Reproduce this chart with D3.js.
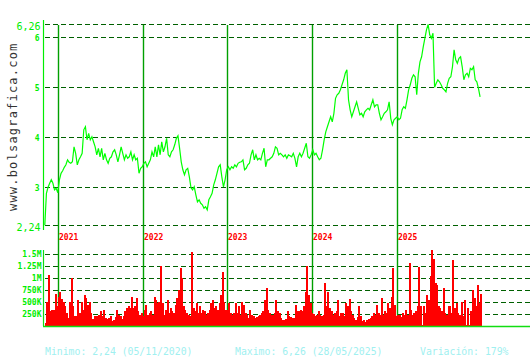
<!DOCTYPE html>
<html>
<head>
<meta charset="utf-8">
<script src="https://cdn.jsdelivr.net/npm/d3@7"></script>
<style>
  body { margin: 0; background: #fff; }
  svg { display: block; }
  text { font-family: "DejaVu Sans Mono", monospace; }
</style>
</head>
<body>
<div id="chart"></div>
<script>
let width = 530
  , height = 360
  , left = 43
  , gridColor = '#006000'
  , axisColor = '#11dd11';

// weekly closes, first week = 05/11/2020
let startDate = new Date(2020, 10, 5);
let prices = [
  2.24, 2.88, 3.00, 3.08, 3.15, 3.08, 2.95, 2.98, 2.89, 3.15,
  3.28, 3.33, 3.40, 3.45, 3.55, 3.50, 3.48, 3.51, 3.81, 3.68,
  3.45, 3.55, 3.61, 3.68, 4.15, 4.21, 3.95, 4.08, 3.95, 4.01,
  3.91, 3.81, 3.65, 3.78, 3.61, 3.78, 3.55, 3.68, 3.55, 3.48,
  3.58, 3.61, 3.71, 3.75, 3.65, 3.51, 3.65, 3.81, 3.68, 3.55,
  3.65, 3.58, 3.61, 3.71, 3.55, 3.65, 3.55, 3.58, 3.28, 3.38,
  3.41, 3.48, 3.51, 3.41, 3.48, 3.55, 3.71, 3.61, 3.81, 3.61,
  3.85, 3.65, 3.91, 3.71, 3.81, 3.98, 3.65, 3.61, 3.71, 3.75,
  3.85, 3.98, 4.03, 3.78, 3.51, 3.35, 3.25, 3.35, 3.38, 3.21,
  2.99, 2.95, 3.01, 2.85, 2.71, 2.75, 2.68, 2.65, 2.58, 2.61,
  2.55, 2.75, 2.81, 2.88, 3.05, 3.15, 3.28, 3.41, 3.45, 3.21,
  3.01, 3.15, 3.35, 3.41, 3.35, 3.41, 3.38, 3.45, 3.41, 3.48,
  3.50, 3.51, 3.55, 3.35, 3.38, 3.45, 3.48, 3.65, 3.75, 3.55,
  3.65, 3.55, 3.58, 3.55, 3.68, 3.78, 3.41, 3.55, 3.55, 3.58,
  3.61, 3.68, 3.81, 3.78, 3.65, 3.68, 3.65, 3.61, 3.65, 3.58,
  3.65, 3.63, 3.61, 3.68, 3.58, 3.41, 3.61, 3.68, 3.61, 3.68,
  3.78, 3.88, 3.61, 3.58, 3.65, 3.75, 3.65, 3.68, 3.61, 3.55,
  3.58, 3.75, 3.95, 4.11, 4.21, 4.31, 4.41, 4.31, 4.48, 4.78,
  4.85, 4.88, 4.95, 5.05, 5.15, 5.28, 5.35, 4.75, 4.55, 4.41,
  4.51, 4.61, 4.71, 4.58, 4.45, 4.48, 4.41, 4.51, 4.55, 4.58,
  4.55, 4.65, 4.75, 4.61, 4.65, 4.65, 4.48, 4.35, 4.41, 4.48,
  4.51, 4.55, 4.71, 4.38, 4.25, 4.35, 4.38, 4.41, 4.35, 4.38,
  4.55, 4.61, 4.58, 4.75, 4.95, 5.05, 5.18, 5.25, 5.21, 4.85,
  5.28, 5.51, 5.61, 5.81, 5.98, 6.15, 6.26, 6.05, 5.98, 6.08,
  5.00, 5.08, 5.15, 5.11, 5.05, 4.98, 4.95, 4.91, 5.08, 5.18,
  5.21, 5.41, 5.75, 5.55, 5.48, 5.58, 5.61, 5.41, 5.15, 5.25,
  5.28, 5.21, 5.38, 5.35, 5.41, 5.15, 5.11, 4.98, 4.81
];

// weekly volume, thousands of shares
let volumes = [
  49, 500, 1056, 292, 326, 326, 653, 410, 604, 708,
  556, 500, 396, 257, 153, 500, 1000, 396, 188, 188,
  535, 257, 500, 326, 639, 569, 431, 500, 257, 139,
  208, 208, 188, 222, 292, 188, 326, 153, 139, 153,
  188, 97, 118, 167, 326, 222, 188, 139, 188, 292,
  361, 396, 361, 590, 361, 396, 569, 292, 222, 257,
  188, 326, 431, 222, 257, 292, 222, 604, 535, 465,
  500, 1243, 465, 222, 326, 535, 257, 361, 292, 257,
  431, 569, 743, 1194, 1000, 396, 326, 257, 222, 188,
  1528, 361, 292, 465, 257, 396, 257, 326, 292, 222,
  257, 326, 465, 535, 361, 396, 326, 465, 639, 1111,
  500, 326, 326, 465, 257, 222, 257, 465, 257, 396,
  222, 500, 431, 257, 222, 153, 326, 222, 188, 153,
  167, 188, 222, 257, 292, 535, 778, 326, 257, 222,
  222, 257, 535, 292, 257, 153, 118, 118, 139, 292,
  188, 167, 153, 153, 431, 292, 306, 326, 306, 396,
  708, 1250, 639, 465, 257, 236, 188, 222, 292, 222,
  188, 222, 882, 396, 708, 361, 292, 222, 257, 292,
  535, 188, 257, 257, 188, 465, 396, 549, 292, 222,
  153, 118, 167, 396, 188, 97, 118, 83, 118, 139,
  153, 188, 257, 222, 431, 257, 222, 569, 222, 292,
  257, 465, 361, 604, 1208, 431, 188, 222, 222, 167,
  257, 222, 326, 222, 1299, 326, 222, 257, 292, 396,
  1229, 396, 14, 396, 257, 639, 535, 1021, 1576, 1389,
  882, 847, 396, 361, 292, 778, 257, 222, 396, 396,
  257, 1368, 361, 465, 257, 222, 500, 188, 535, 14,
  361, 14, 292, 743, 569, 396, 847, 465, 653
];

let years = [2021, 2022, 2023, 2024, 2025];
let priceTicks = [6, 5, 4, 3];
let priceExtremes = [6.26, 2.24];
let volTicks = [1500, 1250, 1000, 750, 500, 250];
let volLabels = ['1.5M', '1.25M', '1M', '750K', '500K', '250K'];
let footer = [
  { text: 'Minimo: 2,24 (05/11/2020)', x: 45 },
  { text: 'Maximo: 6,26 (28/05/2025)', x: 235 },
  { text: 'Variación: 179%', x: 420 }
];

let data = prices.map((p, i) => ({
  date: d3.timeDay.offset(startDate, i * 7),
  close: p,
  vol: volumes[i]
}));

var x = d3.scaleTime()
  .domain([startDate, new Date(2026, 0, 1)])
  .range([44.8, 481.7]);
var y = d3.scaleLinear().domain([2.24, 6.26]).range([225.3, 24.3]);
var yv = d3.scaleLinear().domain([0, 1500]).range([325.5, 253.5]);

let svg = d3.select('#chart').append('svg')
  .attr('width', width).attr('height', height);

// watermark
svg.append('text')
  .attr('transform', 'translate(17,211) rotate(-90)')
  .attr('font-size', 12)
  .attr('letter-spacing', 1.2)
  .attr('fill', '#333')
  .text('www.bolsagrafica.com');

// price grid
svg.selectAll('line.pgrid')
  .data(priceTicks.concat(priceExtremes)).enter()
  .append('line')
  .attr('class', 'pgrid')
  .attr('x1', left + 2).attr('x2', width)
  .attr('y1', d => Math.round(y(d)) + 0.5).attr('y2', d => Math.round(y(d)) + 0.5)
  .attr('stroke', gridColor).attr('stroke-dasharray', '5,3');

// volume grid
svg.selectAll('line.vgrid')
  .data(volTicks).enter()
  .append('line')
  .attr('class', 'vgrid')
  .attr('x1', left + 2).attr('x2', width)
  .attr('y1', d => Math.round(yv(d)) + 0.5).attr('y2', d => Math.round(yv(d)) + 0.5)
  .attr('stroke', gridColor).attr('stroke-dasharray', '5,3');

// year separators
let yearDates = years.map(yr => new Date(yr, 0, 1));
svg.selectAll('line.year')
  .data(yearDates).enter()
  .append('line')
  .attr('class', 'year')
  .attr('x1', d => Math.round(x(d)) + 0.5).attr('x2', d => Math.round(x(d)) + 0.5)
  .attr('y1', 25).attr('y2', 326)
  .attr('stroke', '#00a000').attr('stroke-width', 1.4);

svg.selectAll('text.year')
  .data(yearDates).enter()
  .append('text')
  .attr('class', 'year')
  .attr('x', d => Math.round(x(d)) + 1)
  .attr('y', 239.5)
  .attr('font-size', 8).attr('font-weight', 'bold')
  .attr('fill', '#ff0000')
  .text(d => d.getFullYear());

// volume bars
svg.append('g').selectAll('rect')
  .data(data).enter()
  .append('rect')
  .attr('x', d => x(d.date))
  .attr('width', 2)
  .attr('y', d => yv(d.vol))
  .attr('height', d => yv(0) - yv(d.vol))
  .attr('fill', '#ff0000')
  .attr('shape-rendering', 'crispEdges');

// price line
let line = d3.line().x(d => x(d.date)).y(d => y(d.close));
svg.append('path')
  .datum(data)
  .attr('d', line)
  .attr('fill', 'none')
  .attr('stroke', '#00ff00')
  .attr('stroke-width', 1.2);

// axes lines
svg.append('line')
  .attr('x1', left + 0.5).attr('x2', left + 0.5).attr('y1', 20).attr('y2', 230)
  .attr('stroke', '#00ee00').attr('stroke-width', 1.2);
svg.append('line')
  .attr('x1', left + 0.5).attr('x2', left + 0.5).attr('y1', 250).attr('y2', 326)
  .attr('stroke', axisColor).attr('stroke-width', 1.2);
svg.append('line')
  .attr('x1', left).attr('x2', width).attr('y1', 326.5).attr('y2', 326.5)
  .attr('stroke', axisColor).attr('stroke-width', 1.3);

// price labels
svg.selectAll('text.ptick')
  .data(priceTicks).enter()
  .append('text')
  .attr('class', 'ptick')
  .attr('x', 39.5).attr('y', d => y(d) + 4)
  .attr('text-anchor', 'end')
  .attr('font-size', 8).attr('font-weight', 'bold')
  .attr('fill', '#00ee00')
  .text(d => d);

svg.selectAll('text.pext')
  .data(priceExtremes).enter()
  .append('text')
  .attr('class', 'pext')
  .attr('x', 40.5).attr('y', d => y(d) + 6)
  .attr('text-anchor', 'end')
  .attr('font-size', 10)
  .attr('fill', '#00ee00')
  .text(d => d3.format('.2f')(d).replace('.', ','));

// volume labels
svg.selectAll('text.vtick')
  .data(volTicks).enter()
  .append('text')
  .attr('class', 'vtick')
  .attr('x', 41.5).attr('y', d => yv(d) + 3)
  .attr('text-anchor', 'end')
  .attr('font-size', 8).attr('font-weight', 'bold')
  .attr('fill', '#00ee00')
  .text((d, i) => volLabels[i]);

// footer
svg.selectAll('text.foot')
  .data(footer).enter()
  .append('text')
  .attr('class', 'foot')
  .attr('x', d => d.x).attr('y', 355)
  .attr('font-size', 9.8)
  .attr('fill', '#a0f0f0')
  .text(d => d.text);
</script>
</body>
</html>
